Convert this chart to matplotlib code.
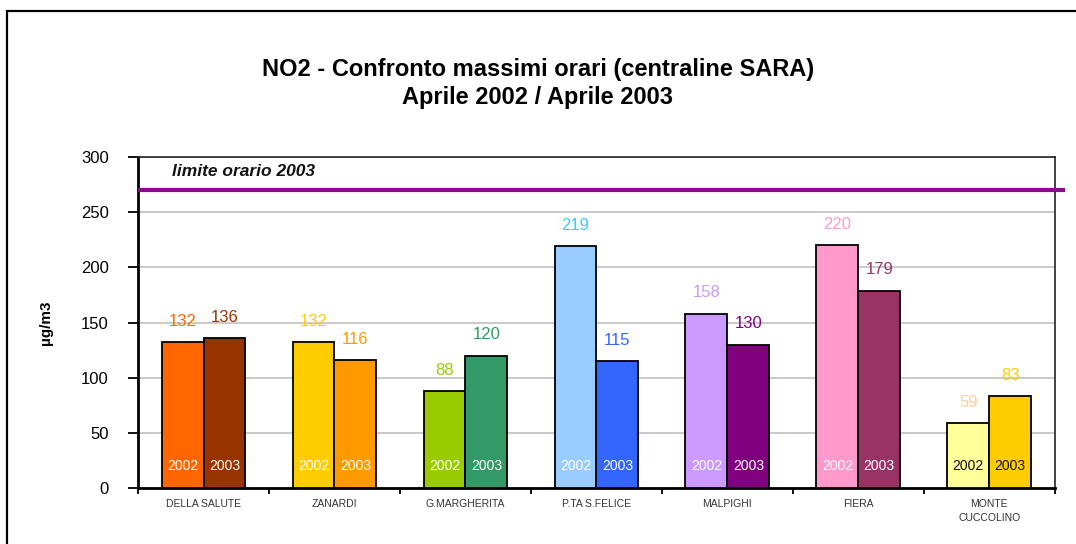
import matplotlib
matplotlib.use("Agg")
import matplotlib.pyplot as plt
from matplotlib.patches import Rectangle
import numpy as np

plt.rcParams['font.family'] = ['Liberation Sans', 'DejaVu Sans']

categories = ["DELLA SALUTE", "ZANARDI", "G.MARGHERITA", "P.TA S.FELICE",
              "MALPIGHI", "FIERA", "MONTE\nCUCCOLINO"]
values_2002 = [132, 132, 88, 219, 158, 220, 59]
values_2003 = [136, 116, 120, 115, 130, 179, 83]
colors_2002 = ["#FF6600", "#FFCC00", "#99CC00", "#99CCFF", "#CC99FF", "#FF99CC", "#FFFF99"]
colors_2003 = ["#993300", "#FF9900", "#339966", "#3366FF", "#800080", "#993366", "#FFCC00"]
label_colors_2002 = ["#FF6600", "#FFCC00", "#99CC00", "#33CCFF", "#CC99FF", "#FF99CC", "#FFCC99"]
label_colors_2003 = ["#993300", "#FF9900", "#339966", "#3366FF", "#800080", "#993366", "#FFCC00"]
inner_text_colors = ["white"] * 6 + ["#111111"]
limit_value = 270
limit_label = "limite orario 2003"
yticks = [0, 50, 100, 150, 200, 250, 300]

fig = plt.figure(figsize=(10.76, 5.44), dpi=100)
ax = fig.add_axes([0.1283, 0.1029, 0.852, 0.6085])

# outer frame of the figure
fig.patches.append(Rectangle((7 / 1076, -0.2), 1.2, 1.2 - 11 / 544,
                             transform=fig.transFigure, fill=False,
                             edgecolor="black", linewidth=1.6, zorder=0))

x = np.arange(len(categories))
w = 0.32
ax.bar(x - w / 2, values_2002, width=w, color=colors_2002,
       edgecolor="black", linewidth=1.3, zorder=3)
ax.bar(x + w / 2, values_2003, width=w, color=colors_2003,
       edgecolor="black", linewidth=1.3, zorder=3)

for i in range(len(categories)):
    ax.annotate(str(values_2002[i]), (x[i] - w / 2, values_2002[i]),
                xytext=(0, 15), textcoords="offset points", ha="center",
                va="center", fontsize=12, color=label_colors_2002[i], zorder=5)
    ax.annotate(str(values_2003[i]), (x[i] + w / 2, values_2003[i]),
                xytext=(0, 15), textcoords="offset points", ha="center",
                va="center", fontsize=12, color=label_colors_2003[i], zorder=5)
    ax.text(x[i] - w / 2, 20, "2002", ha="center", va="center", fontsize=10,
            color=inner_text_colors[i], zorder=5)
    ax.text(x[i] + w / 2, 20, "2003", ha="center", va="center", fontsize=10,
            color=inner_text_colors[i], zorder=5)

# limit line
ax.plot([-0.5, 6.58], [limit_value, limit_value], color="#8B0A8B",
        linewidth=3, clip_on=False, zorder=6, solid_capstyle="butt")
ax.text(-0.24, 287, limit_label, fontsize=12.5, fontweight="bold",
        fontstyle="italic", ha="left", va="center", color="#111111")

ax.set_xlim(-0.5, 6.5)
ax.set_ylim(0, 300)
ax.set_yticks(yticks)
ax.set_yticklabels([str(v) for v in yticks], fontsize=12)
ax.yaxis.grid(True, color="#C0C0C0", linewidth=1.2, zorder=0)
ax.set_axisbelow(True)

ax.set_xticks(x)
ax.set_xticklabels(categories, fontsize=7.5, color="#333333", linespacing=1.5)
ax.set_xticks(np.arange(-0.5, 7.0, 1.0), minor=True)
ax.tick_params(axis="x", which="major", length=0, pad=8)
ax.tick_params(axis="x", which="minor", length=4, width=1.3, direction="out")
ax.tick_params(axis="y", length=7, width=1.3, direction="out", pad=14)

for side in ["left", "bottom"]:
    ax.spines[side].set_linewidth(2)
    ax.spines[side].set_color("black")
for side in ["top", "right"]:
    ax.spines[side].set_linewidth(1.2)
    ax.spines[side].set_color("#222222")

ax.set_ylabel("µg/m3", fontsize=11, fontweight="bold", labelpad=20)

fig.text(0.5, 0.873, "NO2 - Confronto massimi orari (centraline SARA)",
         ha="center", va="center", fontsize=17, fontweight="bold")
fig.text(0.5, 0.82, "Aprile 2002 / Aprile 2003",
         ha="center", va="center", fontsize=17, fontweight="bold")

fig.savefig("out.png", dpi=100)
